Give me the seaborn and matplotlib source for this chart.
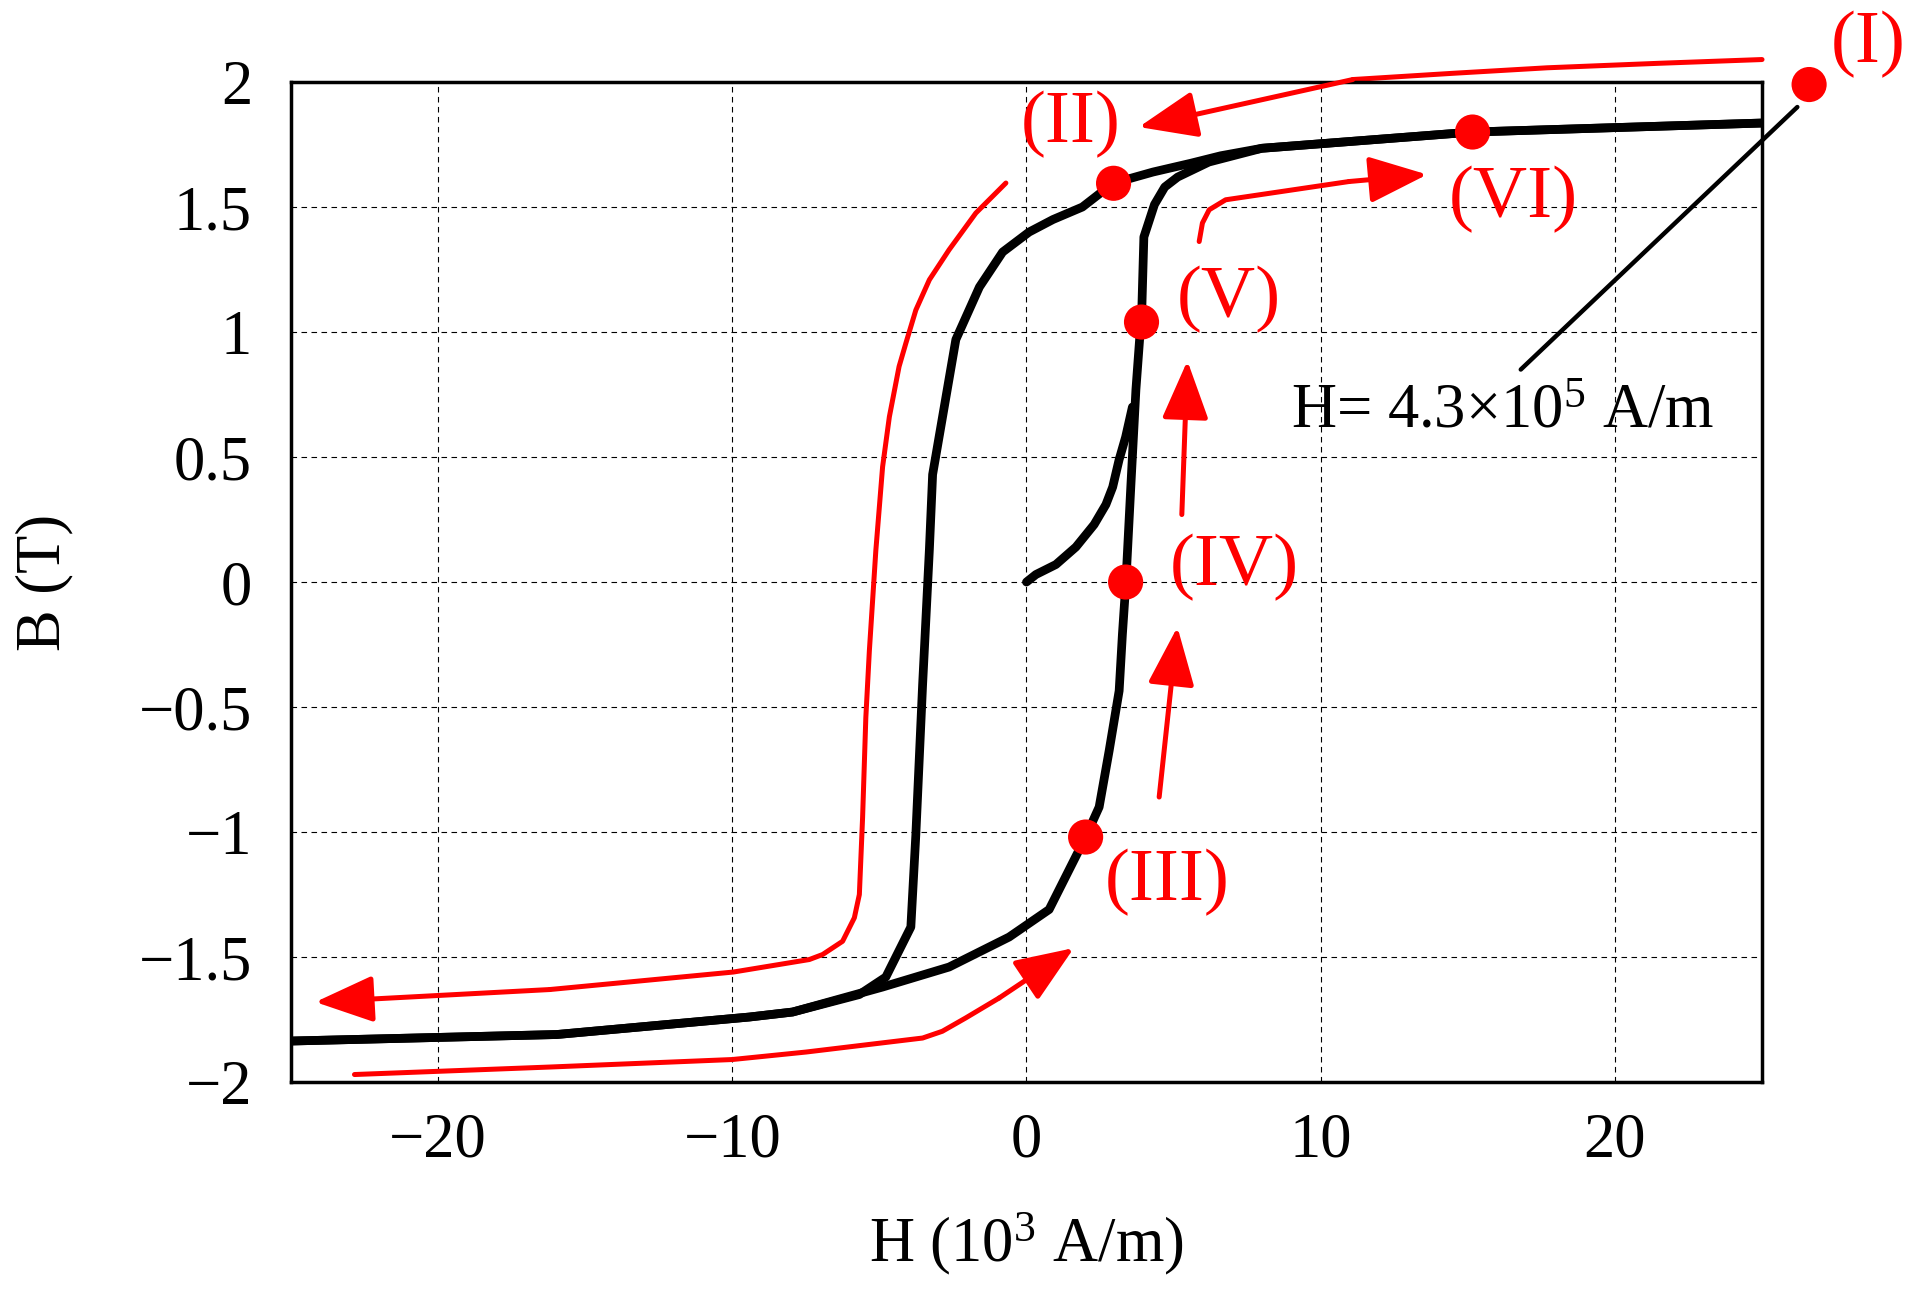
import matplotlib
matplotlib.use('Agg')
import matplotlib.pyplot as plt
import seaborn as sns

# major loop, descending branch (H in 10^3 A/m, B in T)
h_desc = [25.0, 15.16, 8.0, 6.6, 5.58, 4.3, 2.94, 1.9, 0.9, 0.09, -0.81, -1.6, -2.4, -3.19, -3.30, -3.47,
          -3.53, -3.76, -3.93, -4.78, -5.68, -7.95, -9.42, -15.97, -25.0]
b_desc = [1.836, 1.80, 1.735, 1.705, 1.675, 1.64, 1.595, 1.50, 1.45, 1.40, 1.32, 1.18, 0.97, 0.43, 0.13, -0.27,
          -0.41, -1.01, -1.38, -1.58, -1.65, -1.72, -1.74, -1.81, -1.836]

# major loop, ascending branch
h_asc = [-25.0, -15.97, -9.42, -7.95, -4.89, -2.63, -0.59, 0.77, 2.01, 2.47, 2.81, 3.15,
         3.26, 3.38, 3.55, 3.72, 3.92, 3.99, 4.35, 4.70, 5.14, 6.2, 8.0, 15.16, 25.0]
b_asc = [-1.836, -1.81, -1.74, -1.72, -1.62, -1.54, -1.42, -1.31, -1.02, -0.90, -0.675, -0.435,
         -0.21, 0.0, 0.39, 0.77, 1.09, 1.38, 1.51, 1.58, 1.62, 1.68, 1.735, 1.80, 1.836]

# initial magnetization curve
h_init = [0.0, 0.32, 1.0, 1.68, 2.30, 2.70, 2.93, 3.15, 3.37, 3.60]
b_init = [0.0, 0.03, 0.07, 0.14, 0.23, 0.31, 0.38, 0.49, 0.58, 0.70]

# red guide arrows (last point = arrow tip)
arr_top_h = [25.0, 21.5, 17.7, 14.5, 11.09, 3.82]
arr_top_b = [2.09, 2.075, 2.057, 2.035, 2.01, 1.82]

arr_left_h = [-0.70, -1.72, -2.63, -3.30, -3.76, -4.10, -4.33, -4.66, -4.89, -5.12, -5.34, -5.46,
              -5.57, -5.68, -5.85, -6.25, -6.93, -7.38, -9.96, -16.2, -24.17]
arr_left_b = [1.596, 1.476, 1.329, 1.209, 1.088, 0.955, 0.862, 0.661, 0.461, 0.126, -0.275, -0.542,
              -0.942, -1.25, -1.343, -1.437, -1.49, -1.51, -1.56, -1.63, -1.68]

arr_bot_h = [-22.84, -16.2, -10.0, -7.49, -3.53, -2.86, -2.07, -0.93, 1.61]
arr_bot_b = [-1.97, -1.94, -1.91, -1.88, -1.824, -1.797, -1.744, -1.664, -1.464]

arr_34_h = [4.51, 5.13]
arr_34_b = [-0.86, -0.18]

arr_45_h = [5.28, 5.47]
arr_45_b = [0.27, 0.885]

arr_56_h = [5.87, 5.98, 6.21, 6.77, 10.96, 13.62]
arr_56_b = [1.362, 1.436, 1.489, 1.529, 1.602, 1.63]

# state points and labels
dot_h = [26.6, 2.96, 2.01, 3.37, 3.91, 15.16]
dot_b = [1.99, 1.595, -1.02, 0.0, 1.04, 1.80]
dot_lbl = ['(I)', '(II)', '(III)', '(IV)', '(V)', '(VI)']
lbl_h = [28.6, 1.5, 4.79, 7.05, 6.89, 16.55]
lbl_b = [2.15, 1.83, -1.20, 0.06, 1.13, 1.53]

# leader line to the field note
lead_h = [26.2, 16.8]
lead_b = [1.90, 0.85]

sns.set_style('white')
plt.rcParams['font.family'] = ['Liberation Serif', 'DejaVu Serif']
plt.rcParams['mathtext.fontset'] = 'custom'
plt.rcParams['mathtext.rm'] = 'Liberation Serif'
plt.rcParams['mathtext.default'] = 'regular'
plt.rcParams['text.color'] = 'black'
plt.rcParams['axes.labelcolor'] = 'black'

fig = plt.figure(figsize=(19.19, 12.96), dpi=100)
ax = fig.add_axes([0.1516, 0.1651, 0.7666, 0.7716])

ax.set_xlim(-25, 25)
ax.set_ylim(-2, 2)
ax.set_xticks([-20, -10, 0, 10, 20])
ax.set_yticks([-2, -1.5, -1, -0.5, 0, 0.5, 1, 1.5, 2])
ax.set_yticklabels(['\u22122', '\u22121.5', '\u22121', '\u22120.5', '0', '0.5', '1', '1.5', '2'])
ax.set_xticklabels(['\u221220', '\u221210', '0', '10', '20'])
ax.grid(True, color='black', linestyle=(0, (5, 4)), linewidth=0.8)
ax.set_axisbelow(True)
for sp in ax.spines.values():
    sp.set_visible(True)
    sp.set_color('black')
    sp.set_linewidth(2.5)
ax.tick_params(axis='both', length=0, labelsize=45, colors='black')
ax.tick_params(axis='x', pad=22)
ax.tick_params(axis='y', pad=28)

# black loop
line_kw = dict(color='black', linewidth=6.3, sort=False, estimator=None, ax=ax)
sns.lineplot(x=h_desc, y=b_desc, solid_joinstyle='round', **line_kw)
sns.lineplot(x=h_asc, y=b_asc, solid_joinstyle='round', **line_kw)
sns.lineplot(x=h_init, y=b_init, solid_joinstyle='round', **line_kw)

# red arrows
red = '#ff0000'
for hh, bb in [(arr_top_h, arr_top_b), (arr_left_h, arr_left_b), (arr_bot_h, arr_bot_b),
               (arr_34_h, arr_34_b), (arr_45_h, arr_45_b), (arr_56_h, arr_56_b)]:
    if len(hh) > 2:
        sns.lineplot(x=hh[:-1], y=bb[:-1], sort=False, estimator=None, color=red,
                     linewidth=3.6, clip_on=False, solid_joinstyle='round', ax=ax)
    ax.annotate('', xy=(hh[-1], bb[-1]), xytext=(hh[-2], bb[-2]),
                arrowprops=dict(arrowstyle='-|>,head_length=1.0,head_width=0.4',
                                mutation_scale=36, color=red, lw=3.6,
                                shrinkA=0, shrinkB=0),
                annotation_clip=False)

# leader line and note
sns.lineplot(x=lead_h, y=lead_b, sort=False, estimator=None, color='black',
             linewidth=3.2, clip_on=False, ax=ax)
ax.text(9.0, 0.62, 'H= 4.3\u00d710$^5$ A/m', fontsize=45, ha='left', va='baseline',
        color='black')

# state points
sns.scatterplot(x=dot_h, y=dot_b, s=640, color=red, edgecolor='none', zorder=5,
                clip_on=False, ax=ax)
for t, x, y in zip(dot_lbl, lbl_h, lbl_b):
    ax.text(x, y, t, fontsize=54, color=red, ha='center', va='center', clip_on=False)

ax.set_xlabel('H (10$^3$ A/m)', fontsize=45, color='black')
ax.set_ylabel('B (T)', fontsize=45, color='black')
ax.xaxis.set_label_coords(0.5, -0.128)
ax.yaxis.set_label_coords(-0.148, 0.5)

fig.savefig('out.png', dpi=100)
